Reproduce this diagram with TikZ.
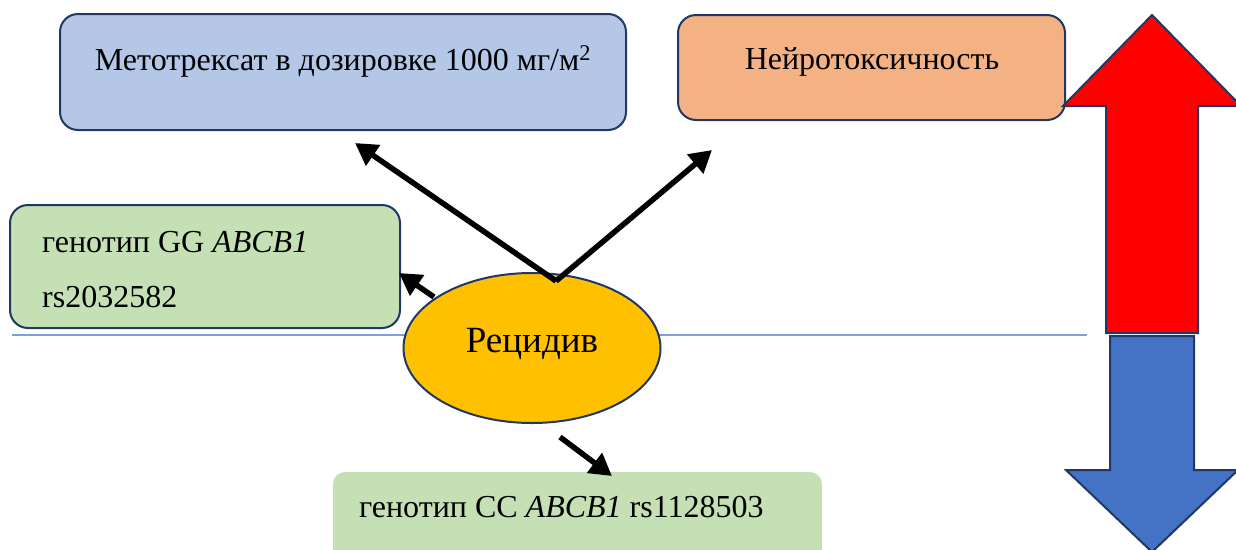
\documentclass[tikz,border=0pt]{standalone}
\usepackage{fontspec}
\setmainfont{Liberation Serif}
\usetikzlibrary{arrows.meta,shapes.geometric}
\definecolor{navy}{HTML}{203864}
\definecolor{boxblue}{HTML}{B4C7E7}
\definecolor{boxorange}{HTML}{F4B183}
\definecolor{boxgreen}{HTML}{C5E0B4}
\definecolor{ellyellow}{HTML}{FFC000}
\definecolor{uparrow}{HTML}{FF0000}
\definecolor{downarrow}{HTML}{4472C4}
\definecolor{divline}{HTML}{7F9FD8}
\tikzset{
  rbox/.style={draw=navy, line width=2pt, rounded corners=18pt, inner sep=0pt},
  txt/.style={inner sep=0pt, anchor=base west, font=\fontsize{32}{38}\selectfont},
  conn/.style={line width=5.5pt, -{Triangle[length=22pt,width=24pt]}},
  bigarrow/.style={draw=navy, line width=2pt, line join=miter},
}
\begin{document}
\begin{tikzpicture}[x=1pt,y=-1pt]
\useasboundingbox (0,0) rectangle (1236,549);
\clip (0,0) rectangle (1236,549);
% divider line
\draw[divline, line width=1.3pt] (12,335) -- (1087,335);
% boxes
\node[rbox, fill=boxblue, minimum width=566pt, minimum height=116pt] (mtx) at (343,72) {};
\node[txt, anchor=base] (mtxt) at (343,70) {Метотрексат в дозировке 1000 мг/м\textsuperscript{2}};
\node[rbox, fill=boxorange, minimum width=387pt, minimum height=105pt] (neuro) at (871.5,67.5) {};
\node[txt, anchor=base] (neurot) at (872,69) {Нейротоксичность};
\node[rbox, fill=boxgreen, minimum width=390pt, minimum height=123pt] (gg) at (205,266.5) {};
\node[txt] (ggt1) at (42,252) {генотип GG \textit{ABCB1}};
\node[txt] (ggt2) at (42,307) {rs2032582};
\node[fill=boxgreen, rounded corners=12pt, inner sep=0pt, minimum width=489pt, minimum height=100pt] (cc) at (577.5,522) {};
\node[txt] (cct) at (359,517) {генотип CC \textit{ABCB1} rs1128503};
% ellipse
\node[draw=navy, line width=2pt, fill=ellyellow, ellipse, minimum width=257pt, minimum height=150pt, inner sep=0pt] (rel) at (532,348) {};
\node[inner sep=0pt, anchor=base, font=\fontsize{37}{44}\selectfont] (relt) at (532,352) {Рецидив};
% connectors
\coordinate (v) at (556,281);
\coordinate (tipA) at (355,143);
\coordinate (tipB) at (712,150);
\coordinate (s1) at (434,297);
\coordinate (tip1) at (399,273);
\coordinate (s2) at (560,437);
\coordinate (tip2) at (612,476);
\draw[conn] (v) -- (tipA);
\draw[conn] (v) -- (tipB);
\draw[conn] (s1) -- (tip1);
\draw[conn] (s2) -- (tip2);
% big arrows
\draw[bigarrow, fill=uparrow] (1152,15) -- (1241,106) -- (1198,106) -- (1198,333) -- (1106,333) -- (1106,106) -- (1063,106) -- cycle;
\draw[bigarrow, fill=downarrow] (1110,336) -- (1194,336) -- (1194,470) -- (1238,470) -- (1152,552) -- (1066,470) -- (1110,470) -- cycle;
\end{tikzpicture}
\end{document}
